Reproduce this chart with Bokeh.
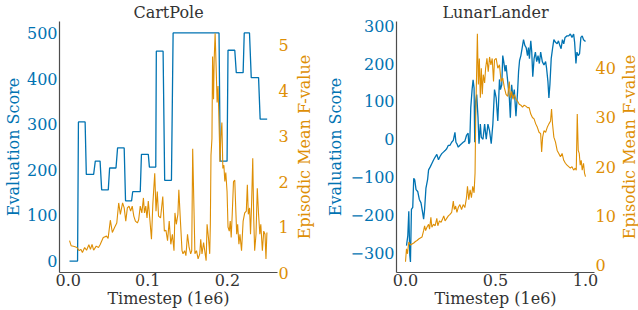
from bokeh.plotting import figure
from bokeh.models import Range1d, LinearAxis, FixedTicker
from bokeh.layouts import row
from bokeh.embed import file_html
from bokeh.resources import INLINE

BLUE = "#0173B2"
ORANGE = "#DE8F05"
DARK = "#333333"
SPINE = "#4d4d4d"
FONT = "'DejaVu Serif', 'Liberation Serif', serif"
FS = "16px"
HEIGHT = 310
MB_TOP = 19
MB_BOTTOM = 38

# ---------------- CartPole data ----------------
cp_eval_start = [0.0016, 0.0128, 0.0227, 0.0340, 0.0420, 0.0520, 0.0620, 0.0720, 0.0810, 0.0920,
                 0.1020, 0.1107, 0.1212, 0.1318, 0.1910, 0.2008, 0.2112, 0.2212, 0.2300, 0.2412]
cp_eval_end = [0.0117, 0.0212, 0.0319, 0.0400, 0.0503, 0.0600, 0.0703, 0.0796, 0.0905, 0.1006,
               0.1100, 0.1192, 0.1297, 0.1895, 0.1996, 0.2093, 0.2198, 0.2278, 0.2392, 0.2500]
cp_eval_score = [0, 305, 190, 219, 156, 204, 248, 132, 152, 234,
                 206, 460, 177, 500, 219, 462, 413, 500, 402, 311]

cp_f_t = [0.0016, 0.0036, 0.0077, 0.0109, 0.0137, 0.0158, 0.0178, 0.0206, 0.0230, 0.0259,
          0.0279, 0.0299, 0.0319, 0.0352, 0.0380, 0.0400, 0.0440, 0.0481, 0.0501, 0.0529,
          0.0554, 0.0582, 0.0610, 0.0634, 0.0655, 0.0683, 0.0703, 0.0723, 0.0743, 0.0764,
          0.0784, 0.0804, 0.0824, 0.0844, 0.0869, 0.0885, 0.0905, 0.0925, 0.0945, 0.0958,
          0.0974, 0.0990, 0.1006, 0.1026, 0.1046, 0.1063, 0.1087, 0.1103, 0.1119, 0.1135,
          0.1160,
          0.1188, 0.1208, 0.1228, 0.1248, 0.1269, 0.1289, 0.1309, 0.1329, 0.1341, 0.1358,
          0.1378, 0.1390, 0.1410, 0.1430, 0.1442, 0.1463, 0.1479, 0.1499, 0.1519, 0.1539,
          0.1552, 0.1564, 0.1580, 0.1592, 0.1612, 0.1632, 0.1653, 0.1665, 0.1681, 0.1701,
          0.1721, 0.1733, 0.1745, 0.1762, 0.1778, 0.1786, 0.1794, 0.1806, 0.1814, 0.1826,
          0.1834, 0.1846, 0.1859, 0.1871, 0.1883, 0.1895, 0.1907, 0.1919, 0.1931, 0.1943,
          0.1956, 0.1968, 0.1980, 0.1996, 0.2008, 0.2024, 0.2036, 0.2048, 0.2061, 0.2077,
          0.2093, 0.2105, 0.2117, 0.2129, 0.2145, 0.2158, 0.2178, 0.2198, 0.2218, 0.2238,
          0.2251, 0.2263, 0.2279, 0.2291, 0.2303, 0.2319, 0.2331, 0.2343, 0.2360, 0.2376,
          0.2392, 0.2408, 0.2420, 0.2440, 0.2457, 0.2473, 0.2485, 0.2497]
cp_f_val = [0.70, 0.59, 0.57, 0.55, 0.48, 0.51, 0.44, 0.55, 0.49, 0.61,
            0.51, 0.62, 0.49, 0.58, 0.55, 0.61, 0.77, 0.80, 0.75, 1.15,
            0.88, 0.99, 1.09, 1.53, 1.28, 1.53, 1.42, 1.13, 1.42, 1.46,
            1.35, 1.46, 1.24, 1.13, 1.09, 1.16, 1.46, 1.31, 1.64, 1.31,
            1.46, 1.20, 1.57, 1.16, 0.73, 1.50, 2.18, 1.35, 1.78, 1.24,
            1.20,
            1.67, 0.91, 0.93, 0.70, 1.13, 0.62, 0.84, 0.48, 1.31, 1.06,
            1.28, 1.82, 1.13, 0.48, 0.41, 0.48, 0.37, 0.84, 0.55, 0.41,
            0.48, 2.72, 1.42, 0.41, 0.48, 0.30, 0.41, 0.73, 0.41, 0.66,
            0.41, 0.26, 1.06, 0.77, 0.41, 1.06, 2.58, 2.94, 4.75, 3.81,
            4.68, 5.26, 4.50, 3.74, 4.10, 3.30, 2.43, 3.00, 3.30, 2.29,
            2.36, 2.00, 2.20, 1.78, 1.00, 0.91, 1.13, 0.77, 1.28, 2.00,
            2.03, 1.42, 0.84, 1.06, 0.62, 0.84, 0.48, 1.13, 1.31, 1.35,
            1.93, 1.28, 1.42, 0.84, 1.42, 2.51, 1.20, 0.48, 0.84, 1.85,
            1.28, 0.84, 1.06, 0.48, 0.91, 0.84, 0.30, 0.88]

cp_x_ticks = [0.0, 0.1, 0.2]
cp_x_labels = ["0.0", "0.1", "0.2"]
cp_score_ticks = [0, 100, 200, 300, 400, 500]
cp_score_labels = ["0", "100", "200", "300", "400", "500"]
cp_f_ticks = [0, 1, 2, 3, 4, 5]
cp_f_labels = ["0", "1", "2", "3", "4", "5"]

# ---------------- LunarLander data ----------------
ll_eval_t = [0.0055, 0.0128, 0.0183, 0.0238, 0.0275, 0.0330, 0.0403, 0.0458, 0.0513, 0.0586,
             0.0678, 0.0769, 0.0861, 0.0952, 0.1007, 0.1062, 0.1136, 0.1227, 0.1282, 0.1374,
             0.1465, 0.1557, 0.1648, 0.1740, 0.1832, 0.1923, 0.2015, 0.2106, 0.2198, 0.2289,
             0.2381, 0.2473, 0.2564, 0.2656, 0.2747, 0.2802, 0.2857, 0.2930, 0.3022, 0.3114,
             0.3205, 0.3297, 0.3388, 0.3480, 0.3516, 0.3571, 0.3626, 0.3700, 0.3755, 0.3810,
             0.3846, 0.3901, 0.3956, 0.4029, 0.4084, 0.4158, 0.4212, 0.4304, 0.4396, 0.4487,
             0.4579, 0.4670, 0.4762, 0.4853, 0.4945,
             0.5037, 0.5128, 0.5165, 0.5220, 0.5275, 0.5348, 0.5403, 0.5458, 0.5531, 0.5586,
             0.5678, 0.5769, 0.5824, 0.5897, 0.5971, 0.6044, 0.6136, 0.6227, 0.6282, 0.6337,
             0.6410, 0.6484, 0.6557, 0.6630, 0.6703, 0.6777, 0.6832, 0.6886, 0.6960, 0.7015,
             0.7070, 0.7143, 0.7216, 0.7289, 0.7363, 0.7436, 0.7509, 0.7601, 0.7692, 0.7784,
             0.7839, 0.7912, 0.7967, 0.8022, 0.8095, 0.8168, 0.8242, 0.8333, 0.8425, 0.8498,
             0.8571, 0.8645, 0.8718, 0.8791, 0.8864, 0.8974, 0.9066, 0.9158, 0.9249, 0.9341,
             0.9396, 0.9469, 0.9524, 0.9597, 0.9670, 0.9744, 0.9817, 0.9890, 1.0000]
ll_eval_score = [-281, -255, -190, -306, -324, -185, -180, -103, -107, -133,
                 -138, -159, -168, -194, -211, -185, -129, -107, -81, -73,
                 -64, -55, -47, -40, -54, -45, -38, -34, -30, -25,
                 -16, -16, -8, -3, 18, -8, -12, -21, -16, -12,
                 -8, -5, 10, 16, -12, -8, 83, 131, 157, 135,
                 -8, 100, 118, 57, -12, 40, 5, 0, 40, 0,
                 40, 22, -12, 40, 131,
                 109, 48, 90, 158, 131, 144, 221, 205, 179, 196,
                 153, 109, 57, 144, 109, 131, 61, 126, 179, 208,
                 221, 242, 263, 248, 242, 221, 242, 213, 260, 230,
                 165, 213, 230, 205, 221, 200, 230, 205, 196, 205,
                 187, 153, 109, 144, 213, 239, 263, 256, 252, 260,
                 248, 239, 263, 252, 269, 273, 273, 278, 269, 278,
                 256, 200, 230, 221, 226, 269, 273, 263, 258]

ll_f_t = [0.0000, 0.0055, 0.0110, 0.0183, 0.0275, 0.0366, 0.0458, 0.0550, 0.0641, 0.0733,
          0.0824, 0.0916, 0.1007, 0.1062, 0.1117, 0.1191, 0.1282, 0.1337, 0.1410, 0.1465,
          0.1557, 0.1648, 0.1740, 0.1795, 0.1886, 0.1978, 0.2051, 0.2125, 0.2198, 0.2289,
          0.2381, 0.2473, 0.2564, 0.2656, 0.2711, 0.2784, 0.2857, 0.2930, 0.3022, 0.3114,
          0.3205, 0.3297, 0.3388, 0.3443, 0.3516, 0.3590, 0.3663, 0.3736, 0.3810, 0.3864,
          0.3901, 0.3956, 0.3993, 0.4048, 0.4103, 0.4158, 0.4212, 0.4267, 0.4322, 0.4396,
          0.4451, 0.4524, 0.4597, 0.4670, 0.4744, 0.4817, 0.4890, 0.4945,
          0.5037, 0.5128, 0.5220, 0.5311, 0.5403, 0.5495, 0.5586, 0.5678, 0.5769, 0.5824,
          0.5897, 0.5971, 0.6044, 0.6136, 0.6227, 0.6319, 0.6410, 0.6502, 0.6593, 0.6685,
          0.6777, 0.6868, 0.6960, 0.7051, 0.7143, 0.7234, 0.7326, 0.7418, 0.7509, 0.7564,
          0.7619, 0.7692, 0.7784, 0.7875, 0.7967, 0.8059, 0.8114, 0.8168, 0.8242, 0.8333,
          0.8425, 0.8516, 0.8608, 0.8700, 0.8791, 0.8883, 0.8974, 0.9066, 0.9158, 0.9249,
          0.9341, 0.9432, 0.9487, 0.9542, 0.9597, 0.9652, 0.9707, 0.9762, 0.9817, 0.9890,
          0.9945, 1.0000]
ll_f_val = [0.67, 3.3, 2.3, 4.7, 4.1, 4.3, 4.5, 4.8, 5.0, 5.3,
            5.5, 5.7, 7.0, 8.0, 7.0, 7.7, 8.3, 7.3, 9.7, 7.7,
            8.3, 8.0, 9.5, 8.0, 9.0, 8.7, 9.3, 10.0, 9.0, 9.5,
            10.0, 10.3, 10.7, 13.0, 11.3, 12.0, 10.7, 11.7, 12.3, 11.3,
            12.3, 11.7, 13.7, 16.0, 13.3, 15.3, 13.7, 16.0, 14.7, 18.7,
            30.0, 40.0, 47.0, 36.7, 42.0, 34.0, 40.0, 34.7, 38.7, 37.0,
            40.0, 42.0, 39.3, 42.3, 40.7, 42.0, 37.3, 41.7,
            42.0, 40.0, 40.7, 37.3, 38.0, 36.0, 34.7, 34.3, 37.3, 34.0,
            35.3, 33.7, 34.7, 33.7, 33.3, 32.7, 32.5, 32.1, 32.5, 32.3,
            32.0, 32.0, 30.7, 30.0, 29.7, 28.7, 28.0, 27.0, 26.7, 23.0,
            26.0, 27.3, 27.0, 28.0, 28.7, 29.3, 31.7, 28.7, 26.0, 25.0,
            23.3, 22.7, 22.0, 22.7, 21.3, 20.7, 20.3, 20.0, 19.7, 20.0,
            19.3, 19.7, 19.3, 30.7, 23.3, 22.7, 20.3, 21.3, 19.3, 20.7,
            18.7, 18.0]

ll_x_ticks = [0.0, 0.5, 1.0]
ll_x_labels = ["0.0", "0.5", "1.0"]
ll_score_ticks = [-300, -200, -100, 0, 100, 200, 300]
ll_score_labels = ["\u2212300", "\u2212200", "\u2212100", "0", "100", "200", "300"]
ll_f_ticks = [0, 10, 20, 30, 40]
ll_f_labels = ["0", "10", "20", "30", "40"]

assert len(cp_f_t) == len(cp_f_val)
assert len(ll_eval_t) == len(ll_eval_score)
assert len(ll_f_t) == len(ll_f_val)


def style_axis(ax, ticks, labels, color, line_color, label, label_standoff, label_std=2):
    ax.ticker = FixedTicker(ticks=ticks)
    ax.major_label_overrides = {t: l for t, l in zip(ticks, labels)}
    ax.major_tick_line_color = None
    ax.minor_tick_line_color = None
    ax.major_tick_out = 0
    ax.major_tick_in = 0
    ax.minor_tick_out = 0
    ax.minor_tick_in = 0
    ax.axis_line_color = line_color
    ax.axis_line_width = 1.2
    ax.major_label_text_font = FONT
    ax.major_label_text_font_size = FS
    ax.major_label_text_color = color
    ax.major_label_standoff = label_std
    ax.axis_label = label
    ax.axis_label_text_font = FONT
    ax.axis_label_text_font_size = FS
    ax.axis_label_text_font_style = "normal"
    ax.axis_label_text_color = color
    ax.axis_label_standoff = label_standoff


def make_panel(title, width, mb_left, mb_right, xr, yr, fr,
               xt, xl, st, sl, ft, fl, left_std):
    p = figure(width=width, height=HEIGHT, output_backend="svg", toolbar_location=None,
               x_range=Range1d(*xr), y_range=Range1d(*yr),
               min_border_left=mb_left, min_border_right=mb_right,
               min_border_top=MB_TOP, min_border_bottom=MB_BOTTOM)
    p.extra_y_ranges = {"f": Range1d(*fr)}
    p.xgrid.visible = False
    p.ygrid.visible = False
    p.outline_line_color = None
    p.background_fill_color = "white"

    p.title.text = title
    p.title.align = "center"
    p.title.text_font = FONT
    p.title.text_font_size = FS
    p.title.text_font_style = "normal"
    p.title.text_color = DARK
    p.title.standoff = 0
    p.title.offset = 0

    style_axis(p.xaxis[0], xt, xl, DARK, SPINE, "Timestep (1e6)", 0, label_std=1)
    style_axis(p.yaxis[0], st, sl, BLUE, SPINE, "Evaluation Score", left_std)
    rax = LinearAxis(y_range_name="f")
    style_axis(rax, ft, fl, ORANGE, None, None, 0, label_std=1)
    p.add_layout(rax, "right")
    return p


def side_label(width, text, color):
    # narrow companion panel that carries the right-hand axis title (reads bottom-to-top)
    q = figure(width=width, height=HEIGHT, output_backend="svg", toolbar_location=None,
               x_range=Range1d(0, 1), y_range=Range1d(0, 1), x_axis_location=None,
               min_border_left=19, min_border_right=0,
               min_border_top=MB_TOP, min_border_bottom=MB_BOTTOM)
    q.xgrid.visible = False
    q.ygrid.visible = False
    q.outline_line_color = None
    style_axis(q.yaxis[0], [], [], color, None, text, 0, label_std=0)
    return q


# CartPole
p1 = make_panel("CartPole", 291, 52, 11, (-0.011, 0.263), (-25, 525), (0, 5.52),
                cp_x_ticks, cp_x_labels, cp_score_ticks, cp_score_labels, cp_f_ticks, cp_f_labels,
                1)
step_x, step_y = [], []
for s, e, v in zip(cp_eval_start, cp_eval_end, cp_eval_score):
    step_x += [s, e]
    step_y += [v, v]
p1.line(step_x, step_y, color=BLUE, line_width=1.3)
p1.line(cp_f_t, cp_f_val, y_range_name="f", color=ORANGE, line_width=1.1)
q1 = side_label(27, "Episodic Mean F-value", ORANGE)

# LunarLander
p2 = make_panel("LunarLander", 300, 78, 21, (-0.05, 1.05), (-352, 311), (-1.5, 49.5),
                ll_x_ticks, ll_x_labels, ll_score_ticks, ll_score_labels, ll_f_ticks, ll_f_labels,
                3)
p2.line(ll_eval_t, ll_eval_score, color=BLUE, line_width=1.3)
p2.line(ll_f_t, ll_f_val, y_range_name="f", color=ORANGE, line_width=1.1)
q2 = side_label(20, "Episodic Mean F-value", ORANGE)

layout = row(p1, q1, p2, q2)
open("out.html", "w").write(file_html(layout, INLINE))
